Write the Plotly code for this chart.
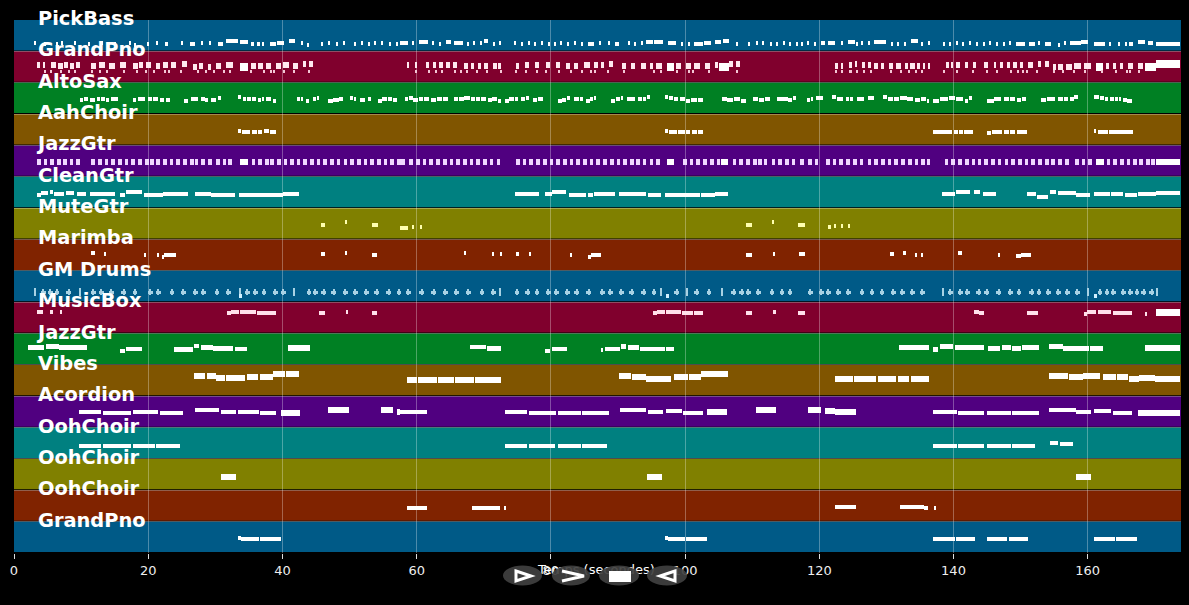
import plotly.graph_objects as go

TRACK_NAMES = ["PickBass", "GrandPno", "AltoSax", "AahChoir", "JazzGtr", "CleanGtr", "MuteGtr", "Marimba",
               "GM Drums", "MusicBox", "JazzGtr", "Vibes", "Acordion", "OohChoir", "OohChoir", "OohChoir", "GrandPno"]
BAND_COLORS = ["#005a87", "#80002d", "#008023", "#805500", "#500080", "#008080", "#808000", "#802300",
               "#005a87", "#80002d", "#008023", "#805500", "#500080", "#008080", "#808000", "#802300", "#005a87"]
X_TICKS = [0, 20, 40, 60, 80, 100, 120, 140, 160]
X_TITLE = "Temps (secondes)"

# (start, end, position inside the band: 0 top .. 1 bottom)
pick_bass = [(3.0,3.3,.68),(4.5,4.8,.72),(6.2,6.6,.7),(7.0,7.3,.66),(9.0,9.3,.68),(11.0,11.3,.7),(13.0,13.3,.66),(15.0,15.2,.72),
 (17.2,17.4,.66),(18.0,18.2,.74),(19.9,20.1,.72),(21.2,21.4,.66),(22.5,23.0,.7),(24.9,25.2,.68),(26.2,27.0,.72),(27.9,28.1,.68),(29.0,29.4,.66),
 (30.4,31.1,.72),(31.6,33.4,.62),(33.7,34.8,.64),(35.3,35.8,.72),(36.2,36.7,.72),(37.0,37.3,.72),(38.1,39.0,.72),(39.2,40.3,.68),(41,41.8,.62),
 (42.8,43.1,.68),(43.8,44.0,.74),(45.8,46.0,.7),(46.8,47.0,.66),(48,48.3,.7),(49,49.3,.66),(50.7,50.9,.7),(51.7,52,.66),(52.7,53,.72),(53.7,54,.68),
 (54.7,54.9,.66),(56,56.2,.7),(57,57.2,.72),(57.5,58.7,.68),(59.4,59.6,.66),(60.4,61.7,.64),(62.4,62.6,.68),(63.4,63.6,.7),(64.4,65.1,.64),
 (65.6,66.9,.68),(67.6,67.8,.72),(68.4,68.6,.68),(69.4,69.7,.68),(70.1,70.6,.62),(71.4,71.6,.72),(72.4,72.6,.66),(74.6,74.8,.68),(75.6,75.8,.72),
 (76.6,76.9,.68),(77.6,77.8,.72),(78.6,78.8,.66),(79.6,79.9,.7),(80.5,80.8,.7),(81.5,81.7,.66),(82.5,82.7,.72),(83.5,83.8,.68),(84.5,84.7,.7),
 (85.5,86.5,.7),(87.2,87.4,.66),(88.5,88.8,.68),(89.5,90.2,.72),(91.5,91.7,.68),(92.5,92.7,.72),(93.5,93.8,.66),(94.2,95.2,.64),(95.4,96.7,.64),
 (97.4,98.7,.68),(99.4,99.7,.72),(100.4,100.7,.72),(101.4,102.6,.7),(102.8,103.9,.68),(104.4,105.4,.64),(105.6,106.6,.62),(107.6,107.8,.72),
 (109.4,109.6,.7),(110.6,110.8,.68),(111.6,111.8,.66),(112.6,112.9,.7),(113.6,113.8,.7),(114.6,114.8,.68),(115.6,115.8,.72),(116.6,116.8,.7),
 (117.3,117.5,.7),(118.3,118.5,.68),(119.3,119.5,.7),(120.3,120.8,.68),(121.3,122.3,.66),(123.3,123.5,.66),(124.3,125.3,.64),(125.6,125.8,.72),
 (126.3,126.5,.66),(127.2,127.5,.68),(128.2,130,.64),(130.7,130.9,.72),(131.7,131.9,.72),(132.7,132.9,.7),(133.7,134.7,.62),(135.2,135.4,.72),
 (136.2,136.4,.68),(138.4,138.8,.7),(139.4,139.7,.7),(140.4,140.7,.68),(141.4,141.6,.7),(142.4,142.6,.68),(143.4,143.6,.7),(144.4,144.7,.72),
 (145.4,145.6,.68),(146.4,146.6,.7),(147.4,147.6,.72),(148.4,148.6,.66),(149.3,150.6,.7),(151.3,152.1,.72),(152.6,152.8,.66),(153.6,154.6,.7),
 (155.6,155.8,.74),(156.5,156.7,.68),(157.3,159,.66),(159,160,.64),(161,162.5,.7),(163.3,163.5,.72),(164.5,164.8,.72),(165.5,165.8,.72),
 (166.2,166.7,.7),(167.5,168.5,.64),(169,169.7,.66),(170.2,173.7,.7)]

grand_upper = [(3.4,3.9,.42),(4.3,4.6,.42),(5.5,6.3,.42),(6.5,7.3,.44),(7.5,8,.42),(8.3,9,.44),(9.3,9.9,.42),(11.5,12.2,.44),(12.7,13.5,.42),
 (14.2,15,.44),(15.8,16.7,.42),(17.7,18.5,.44),(18.7,19.2,.42),(19.7,20.4,.42),(21.2,21.7,.44),(22.2,23,.42),(23.4,24.2,.42),(25.1,25.8,.36),
 (26.7,27.2,.46),(27.6,28.1,.44),(28.9,29.4,.46),(30.1,30.9,.44),(31.6,32.6,.42),(35.3,36.1,.44),(36.4,37.1,.44),(37.6,38.3,.44),(39.1,39.8,.44),
 (40.1,41,.42),(41.5,42.3,.44),(43,43.5,.36),(44,44.5,.36),(58.5,58.9,.42),(59.7,60,.4),(61.4,61.9,.42),(62.4,62.9,.42),(63.4,63.9,.42),(64.4,64.9,.42),
 (65.4,66,.42),(67,67.6,.44),(68.1,68.6,.44),(69.1,69.6,.44),(70.1,70.6,.44),(71.4,71.9,.44),(72.1,72.5,.44),(74.8,75.3,.44),(76.2,76.7,.42),
 (77.6,78.2,.42),(79.3,79.8,.42),(80.8,81.3,.42),(82.3,82.8,.44),(83.5,84,.44),(85,85.8,.42),(86.5,87,.42),(87.5,87.9,.42),(88.7,89.2,.36),
 (90.6,91.2,.44),(92,92.5,.44),(93.5,94.2,.44),(94.7,95.2,.44),(95.7,96.5,.44),(98.7,99.4,.44),(100.2,100.9,.44),(101.4,102.2,.44),(102.9,103.7,.44),
 (104.4,104.9,.42),(106.6,107.1,.36),(107.6,108.2,.36),(122.3,122.8,.44),(123.3,123.5,.44),(124.4,124.8,.42),(125.3,125.6,.38),(126.3,126.8,.42),
 (127.2,127.7,.42),(128.2,128.7,.44),(129.2,129.7,.44),(130.4,131,.44),(131.5,132.2,.44),(132.7,133.2,.44),(133.5,134.2,.44),(134.5,135,.44),
 (135.5,135.8,.44),(136.2,136.4,.44),(138.9,139.3,.42),(139.7,139.9,.42),(140.4,140.9,.42),(141.7,142.2,.42),(142.9,143.4,.42),(144.6,145.1,.42),
 (146.1,146.4,.42),(146.9,147.4,.42),(147.9,148.4,.42),(148.9,149.4,.42),(149.9,150.4,.42),(151.1,151.8,.4),(152.6,153.1,.36),(153.7,154.2,.36),
 (154.8,155.3,.46),(155.6,156.3,.46),(156.8,157.6,.46),(158,159,.44),(159.5,160.5,.44),(162.7,163.2,.44),(163.7,164.2,.44),(164.8,165.3,.44),
 (166,166.7,.44),(167.5,168.2,.44)]
grand_big = [(33.7,34.8,.48),(97.3,98.3,.48),(105.1,106.5,.46),(161.3,162.3,.48),(168.5,170.2,.46),(170.2,173.7,.36)]
grand_lower_starts = [4.5,5.3,6.8,8,9,11.5,12.7,13.7,16.2,18.2,19.5,20.7,22.4,23,24.7,27.2,28.4,29.6,31.1,32.1,35.1,37.1,38.1,38.6,40.1,41.6,43.8,
 59.7,61.7,62.7,63.7,65.6,66.4,67.4,68.9,70.4,72.4,74.6,76.1,77.8,79.1,81.1,82.8,84.5,85.8,86.4,88.3,90.7,95.2,96.2,98.7,100.4,101,103.4,107.6,
 122.3,123.3,124.5,125.5,126.5,127.5,130.5,132,133.2,134.2,135.2,138.4,140.4,142.7,144.9,146.4,148.4,149.4,150.2,150.8,152.3,154.8,156.1,157.8,159.5,162,164,165.7,166.2,167.5]

alto_sax = [(9.8,10.3,.52),(10.5,11,.5),(11.3,12,.52),(12.3,12.8,.5),(13,13.5,.5),(13.7,14.2,.52),(14.5,15,.5),(15.1,15.5,.48),
 (17.7,18.2,.52),(18.5,19,.5),(19.1,19.5,.48),(19.9,20.5,.48),(20.7,21.4,.5),(21.7,22.4,.52),(22.7,23.2,.52),
 (25.4,25.9,.56),(26.4,26.9,.5),(27,27.4,.5),(27.9,28.4,.48),(28.5,28.9,.52),(29.4,30.1,.52),(30.4,30.9,.46),
 (33.4,33.9,.42),(34.1,34.6,.48),(34.7,35.3,.5),(35.4,36.1,.5),(36.4,36.8,.52),(36.9,37.3,.5),(37.6,38.3,.5),(38.6,39.1,.54),
 (42.1,42.6,.48),(42.7,43.1,.5),(43.5,44,.54),(44.5,45,.5),(45.1,45.5,.46),(46.8,47.5,.54),(47.6,48.4,.52),(48.5,49,.5),
 (50,50.5,.46),(50.6,51,.5),(51.5,52.3,.52),(52.7,53.2,.48),(54.2,54.8,.56),(54.9,55.6,.5),(55.7,56.4,.5),(56.5,57,.52),
 (58.2,58.7,.48),(58.8,59.4,.46),(59.5,60.2,.52),(60.3,61,.5),(61.1,61.9,.5),(62.2,62.9,.52),(63,63.8,.48),(63.9,64.7,.5),
 (65.6,66.2,.5),(66.3,67,.5),(67.1,67.9,.46),(68.1,68.7,.5),(68.8,69.5,.5),(69.6,70.4,.5),(70.6,71.2,.52),(71.3,72,.5),(72.1,72.6,.54),
 (73.1,73.7,.56),(73.8,74.5,.5),(74.6,75.1,.5),(75.6,76.2,.5),(76.3,76.8,.46),(77.3,78,.52),(78.1,78.9,.48),
 (81,81.6,.54),(81.7,82.3,.52),(82.4,82.8,.46),(83.5,84.2,.5),(84.3,84.8,.5),(85.3,85.8,.54),(85.9,86.3,.5),(86.4,86.8,.46),
 (89,89.6,.56),(89.7,90.3,.5),(90.4,90.7,.46),(91.3,92.5,.5),(93,93.6,.5),(93.8,94.2,.5),(94.3,94.7,.42),
 (97,97.5,.42),(97.6,98.2,.46),(98.3,98.9,.5),(99.2,100,.5),(100.1,100.7,.54),(100.9,101.8,.52),(101.9,102.6,.52),
 (105.5,106.2,.48),(106.3,107.2,.52),(107.3,108.2,.48),(108.3,109.1,.54),(110.1,110.9,.5),(111,111.8,.52),(111.9,112.6,.5),
 (113.7,114.4,.48),(114.5,115.3,.5),(115.4,116,.52),(116.1,116.6,.46),(118.1,118.6,.52),(118.7,119.1,.5),(119.5,120.6,.46),
 (121.9,122.5,.42),(122.6,123.5,.48),(124,124.5,.5),(124.6,125,.5),(125.6,126.7,.48),(127.2,128.2,.46),
 (129.5,130.1,.42),(130.2,131,.5),(131.1,131.9,.48),(132,133,.46),(133.1,134,.48),(134.2,135,.52),(135.1,135.9,.5),(136,136.4,.54),
 (137,137.9,.54),(138,139.2,.48),(139.4,140.2,.46),(140.3,141.4,.48),(141.7,142.2,.54),(142.3,142.8,.46),
 (145,146,.54),(146.1,147.1,.5),(147.5,148.3,.48),(148.4,149.1,.5),(149.4,150.1,.52),(150.2,150.8,.5),
 (153.1,153.8,.52),(153.9,154.5,.48),(154.6,155.1,.5),(155.6,156.3,.48),(156.4,157,.5),(157.4,157.9,.5),(158,158.5,.44),
 (161,161.7,.42),(161.8,162.4,.46),(162.5,163,.48),(163.3,163.9,.48),(164,164.5,.5),(164.6,165,.5),(165.2,165.8,.52),(165.9,166.6,.54)]

aah_choir = [(33.4,33.8,.5),(34,34.8,.53),(34.9,35.2,.53),(35.4,36.2,.55),(36.3,37,.53),(37.2,38,.52),(38.1,39,.54),(97,97.4,.5),(97.6,98.8,.53),(99,100,.55),(100.1,100.8,.53),(101,101.8,.53),(101.9,102.7,.54),
 (137,137.5,.55),(137.6,139.8,.53),(140,140.7,.53),(140.8,141.4,.55),(141.6,142.9,.53),(145,145.6,.56),(145.7,147.2,.53),(147.5,148.3,.53),(148.4,149.2,.55),(149.4,151,.53),(161,161.3,.5),(161.5,163,.53),(163.2,166.7,.54)]

jazz_purple_starts = [3.4,4.4,5.4,6.4,7.3,8.3,9.3,11.5,12.5,13.5,14.5,15.5,16.5,17.5,18.5,19.5,20.3,21.2,22.2,23.2,24.2,25.2,26.2,26.9,27.9,28.9,30.1,31.1,31.9,
 35.4,36.4,37.4,38.2,39.2,40.2,41.1,42.1,43.1,44.1,45.1,46.1,47.1,48.1,49.1,50.1,51.1,52.1,53.1,54.1,55.1,56.1,57.1,
 57.7,58.9,59.9,60.9,61.9,62.9,63.9,64.9,65.9,66.9,67.9,68.9,69.9,70.9,71.9,74.8,75.8,76.8,77.8,78.8,79.8,80.8,81.8,82.8,83.8,84.8,85.8,86.8,87.8,88.8,89.8,90.8,91.8,92.7,93.7,94.7,95.7,
 99.7,100.7,101.7,102.7,103.7,104.7,107.1,108.1,109.1,110.1,110.9,111.7,112.9,113.9,114.9,115.9,
 117.1,118.3,119.3,121,122,123,124,125,126,127.2,128.2,129.2,130.2,131.2,132.2,133.2,134.2,135.2,136,
 138.7,139.7,140.7,141.7,142.7,143.6,144.6,145.6,146.6,147.6,148.6,149.6,150.6,151.6,152.6,153.7,154.6,155.6,156.6,158.1,159.1,160.1,162.8,163.8,164.8,165.8,166.8,167.7,168.7,169.5]
jazz_purple_big = [(33.7,34.9,.48),(97.3,98.4,.48),(105.4,106.4,.48),(161.2,162.4,.48),(170.1,173.7,.48)]

clean_gtr = [(3.4,4,.54),(4,5,.48),(5.3,5.8,.46),(6,7.5,.52),(7.8,9,.5),(9.4,10.7,.52),(11.3,15,.52),(15.8,16.5,.54),(16.7,19,.44),(19.4,22.2,.54),(22.2,25.9,.52),
 (26.9,29.4,.52),(29.4,30.9,.54),(30.9,32.9,.54),(33.6,37.6,.54),(37.6,40.1,.54),(40.1,42.5,.52),(74.6,78.3,.52),(79.2,80.1,.52),(80.2,82.3,.44),(82.7,85.3,.54),
 (85.5,86.3,.54),(86.5,89.5,.52),(90.2,94.2,.52),(94.5,96.4,.54),(97,99.7,.54),(99.7,102.2,.56),(102.4,104.4,.54),(104.4,106.4,.52),
 (138.3,140.2,.52),(140.4,142.4,.46),(143,143.9,.46),(144.4,146.4,.52),(151,152.3,.52),(152.4,154.1,.6),(154.4,155.3,.46),(155.6,158.3,.5),(158.3,160.3,.54),
 (161,163.3,.52),(163.5,165.3,.52),(165.5,167.3,.56),(167.5,170.2,.52),(170.2,173.7,.48)]

mute_gtr = [(45.8,46.3,.5),(49.3,49.6,.42),(53.3,54.2,.5),(57.5,58.7,.6),(59.4,59.6,.56),(60.5,60.7,.56),(109.1,109.9,.5),(113,113.3,.42),(116.8,117.8,.52),
 (121.3,121.8,.56),(122.3,122.5,.54),(123.3,123.5,.54),(124.4,124.6,.54)]
marimba = [(11.5,12,.44),(13.5,13.7,.46),(19.4,19.6,.48),(21.3,21.6,.48),(22,22.4,.56),(22.4,24.2,.5),(45.8,46.3,.46),(49.3,49.6,.44),(53.3,54.1,.48),
 (67.1,67.4,.44),(71.3,71.6,.46),(72.4,72.7,.46),(74.8,75.2,.46),(76.8,77.1,.46),(82.8,83.1,.48),(85.5,86,.56),(86,87.5,.5),(109.1,109.9,.48),(113.1,113.4,.46),
 (117,117.8,.46),(130.5,131.2,.46),(132.5,132.9,.44),(134.2,134.5,.48),(135.2,135.5,.48),(140.7,141.2,.44),(146.7,147,.48),(149.3,150,.54),(150,151.6,.5)]

drum_hits = [4.05,5.05,6.05,7.8,11.5,12.7,14.2,16,17.7,20,21.2,23.2,24.9,26.7,27.9,29.9,31.6,34.4,35.6,36.9,38.6,39.8,43.6,44.6,45.8,47.3,49,50.5,52.2,53.7,55.5,57,
 58.4,60.4,62.2,63.9,65.6,67.4,69.4,71.1,74.6,76.2,77.6,79.3,80.5,82.1,83.5,85.3,87.3,88.5,90.2,91.7,93.5,95,98.4,101.4,103.2,106.9,108.1,109.1,110.6,112.6,114.1,115.3,
 118.3,120,121,122.5,124,126,127.5,129,130.7,132,133.5,135,139.2,140.7,141.7,143.4,144.6,146.4,148.1,149.4,151.3,152.4,153.8,155.3,156.6,158.1,161.5,162.5,163.5,165,166,167,168,169.2]
drum_sticks = [3.06,9.8,33.6,41.6,72.3,96.3,100.2,105.4,138.3,160,170.3]
drum_low = [33.6,97.2,161]

music_box = [(3.4,4.3,.32),(5.3,5.8,.32),(7,7.2,.3),(31.8,32.4,.36),(32.4,33.6,.3),(33.7,36,.3),(36.2,37.8,.33),(37.9,39.1,.34),(45.5,46.3,.34),(49.4,49.7,.3),(53.3,54.1,.33),
 (95.2,95.8,.36),(95.8,97,.3),(97.1,99.4,.31),(99.6,101.2,.33),(101.3,102.6,.35),(109.1,109.9,.33),(113.1,113.5,.3),(116.9,117.8,.34),(143.1,143.8,.32),(143.8,144.6,.36),
 (151,151.8,.33),(151.8,152.6,.35),(159.4,159.9,.38),(159.9,161.3,.3),(161.5,163.5,.32),(163.7,165.2,.34),(165.3,166.6,.35),(168.6,168.8,.38)]
music_box_long = [(170.1,173.7,.32)]

jazz_green = [(2.06,4.5,.42),(4.7,6.7,.38),(6.7,10.9,.42),(15.8,16.5,.52),(16.7,19,.46),(23.9,26.7,.48),(26.8,27.6,.36),(27.9,29.6,.42),(29.6,32.6,.44),(32.9,34.7,.46),(68,70.4,.4),(70.5,72.6,.44),
 (79.2,79.8,.52),(80.2,82.4,.46),(87.4,87.8,.5),(88.1,90.3,.46),(90.4,91.2,.38),(91.5,93.2,.42),(93.3,97,.46),(97.1,98.3,.46),(131.9,136.4,.42),(137,137.7,.48),(138,139.9,.38),(140.2,144.6,.42),
 (145.1,147,.44),(147.2,148.5,.42),(148.7,150,.44),(150.2,152.8,.42),(154.3,156.3,.38),(156.3,158.3,.44),(158.3,160.2,.44),(160.4,162.3,.44)]
jazz_green_big = [(40.8,44.1,.42),(168.6,173.7,.42)]

vibes = [(26.8,28.5,.36),(28.7,30.1,.36),(30.1,31.5,.42),(31.6,34.4,.42),(34.7,36.4,.38),(36.6,38.6,.38),(38.6,40.4,.3),(40.6,42.5,.3),(58.5,60,.48),(60.2,63,.48),(63.2,65.5,.48),(65.7,68.5,.48),(68.7,72.6,.48),
 (90.2,91.9,.36),(92.1,94.2,.38),(94.2,97.9,.44),(98.4,100.4,.38),(100.6,102.4,.38),(102.4,106.4,.3),(122.3,125,.46),(125.2,128.5,.44),(128.7,131.5,.46),(131.7,133.4,.44),(133.6,136.4,.46),
 (154.2,157,.36),(157.2,159.3,.38),(159.3,161.8,.34),(162.3,164.2,.38),(164.4,166,.4),(166.2,167.7,.44),(167.7,170,.42),(170,173.7,.44)]

acordion_thin = [(9.7,13,.5),(13.2,17.5,.52),(17.7,21.5,.5),(21.7,25.2,.52),(26.9,30.6,.44),(30.9,33.1,.5),(33.4,36.5,.5),(36.7,39.1,.52),(57.45,61.5,.5),(73.1,76.5,.5),(76.7,80.8,.52),(81.1,84.5,.52),(84.7,88.7,.52),
 (90.3,94.2,.44),(94.5,96.7,.5),(97.2,99.5,.48),(99.7,102.7,.52),(137,140.5,.5),(140.7,144.6,.52),(145,148.5,.52),(148.7,152.7,.52),(154.3,158.3,.44),(158.3,160.5,.5),(161,163.5,.48),(163.7,166.6,.52)]
acordion_big = [(39.8,42.6,.54),(46.8,49.9,.44),(54.7,56.5,.44),(57,57.5,.5),(103.2,106.3,.5),(110.5,113.5,.44),(118.3,120.3,.44),(120.8,122.3,.48),(122.3,125.4,.5),(167.5,173.7,.52)]

ooh_choir_a = [(9.7,13,.58),(13.2,17.5,.58),(17.7,21,.58),(21.2,24.8,.58),(73.1,76.5,.58),(76.7,80.6,.58),(81.1,84.5,.58),(84.7,88.3,.58),(137,140.5,.58),(140.7,144.6,.58),(145,148.5,.58),(148.7,152.2,.58),(154.4,155.6,.48),(155.8,157.8,.52)]
ooh_choir_b = [(30.9,33.1,.56),(94.3,96.6,.56),(158.3,160.5,.56)]
ooh_choir_c = [(58.5,61.6,.55),(68.2,71.5,.55),(71.5,72.4,.58),(73.1,73.3,.58),(122.3,125.4,.54),(132.1,135.6,.54),(135.6,136.2,.58),(137.1,137.3,.58)]
grand_bottom = [(33.4,33.8,.52),(33.8,36.5,.55),(36.7,39.8,.55),(97,97.4,.52),(97.4,100,.55),(100.2,103.2,.55),(137,140.2,.54),(140.4,143.2,.55),(145,148,.55),(148.2,151.1,.55),(161,164,.54),(164.2,167.3,.55)]

QUARTER_LEN = 0.55
GRACE_LEN = 0.3
HIT_LEN = 0.7
STICK_LEN = 0.15

# (track index, notes, bar height in px, colour)
DRUM_COL = "#a8d2e4"
groups = [
    (0, pick_bass, 4, "white"),
    (1, grand_upper, 6, "#ffe8f0"), (1, grand_big, 8, "white"),
    (1, [(s, s + GRACE_LEN, .6) for s in grand_lower_starts], 3, "#f4c8d6"),
    (2, alto_sax, 4, "white"), (3, aah_choir, 4, "white"),
    (4, [(s, s + QUARTER_LEN, .48) for s in jazz_purple_starts], 6, "#f0d8ff"), (4, jazz_purple_big, 6, "white"),
    (5, clean_gtr, 4, "white"), (6, mute_gtr, 4, "#ffffb0"), (7, marimba, 4, "#ffffff"),
    (8, [(s, s + HIT_LEN, .68) for s in drum_hits], 3, DRUM_COL),
    (8, [(s + .25, s + .42, .68) for s in drum_hits], 6, DRUM_COL),
    (8, [(s, s + STICK_LEN, .68) for s in drum_sticks], 8, DRUM_COL),
    (8, [(s, s + .4, .8) for s in drum_low], 4, "#d0f0ff"),
    (9, music_box, 4, "#ffe0ea"), (9, music_box_long, 7, "white"),
    (10, jazz_green, 4.5, "white"), (10, jazz_green_big, 6, "white"),
    (11, vibes, 6, "white"),
    (12, acordion_thin, 4, "white"), (12, acordion_big, 6, "white"),
    (13, ooh_choir_a, 4, "white"), (14, ooh_choir_b, 6, "white"), (15, ooh_choir_c, 4, "white"),
    (16, grand_bottom, 4, "white"),
]
TRACK_NUDGE = {0: .06, 1: .03, 2: .03, 3: .03, 4: .05, 5: .03, 6: .03, 10: .03}

WIDTH, HEIGHT = 1189, 605
ML, MR, MT, MB = 14, 8, 20, 52
PLOT_W, PLOT_H = WIDTH - ML - MR, HEIGHT - MT - MB
FULL_H = HEIGHT - MT
N = len(TRACK_NAMES)
PX_PER_TRACK = PLOT_H / N

fig = go.Figure()
for track, notes, h, col in groups:
    dy = TRACK_NUDGE.get(track, 0)
    fig.add_trace(go.Bar(
        orientation="h",
        base=[n[0] for n in notes],
        x=[n[1] - n[0] for n in notes],
        y=[track + n[2] + dy for n in notes],
        width=[h / PX_PER_TRACK] * len(notes),
        marker=dict(color=col, line=dict(width=0)),
        showlegend=False, hoverinfo="skip",
    ))

# Axis title lives in a small helper subplot under the main one, so the transport buttons can overlap it
fig.add_trace(go.Scatter(x=[86.8], y=[18], mode="text", text=[X_TITLE], xaxis="x2", yaxis="y2",
                         textfont=dict(family="DejaVu Sans", size=13, color="white"),
                         textposition="middle center", cliponaxis=False, showlegend=False, hoverinfo="skip"))

shapes = []
for i, c in enumerate(BAND_COLORS):
    shapes.append(dict(type="rect", xref="x", yref="y", x0=0, x1=173.9, y0=i, y1=i + .97,
                       fillcolor=c, line=dict(width=0), layer="below"))


def px(x):
    return (x - ML) / PLOT_W


def py(y):
    return (HEIGHT - y) / FULL_H


def path(points, close=False):
    s = " ".join(("M" if k == 0 else "L") + f"{px(a):.5f},{py(b):.5f}" for k, (a, b) in enumerate(points))
    return s + (" Z" if close else "")


for x0, x1 in [(503, 542), (552, 590), (599, 639), (647, 687)]:
    shapes.append(dict(type="circle", xref="paper", yref="paper", x0=px(x0), x1=px(x1), y0=py(585.5), y1=py(565.5),
                       fillcolor="rgba(64,64,64,0.92)", line=dict(width=0), layer="above"))
white = dict(color="white", width=3)
shapes.append(dict(type="path", xref="paper", yref="paper", path=path([(516, 571), (531, 576), (516, 581)], True), line=white, layer="above"))
shapes.append(dict(type="path", xref="paper", yref="paper", path=path([(562, 571), (584, 576), (562, 581)]), line=white, layer="above"))
shapes.append(dict(type="rect", xref="paper", yref="paper", x0=px(609), x1=px(631), y0=py(582), y1=py(571), fillcolor="white", line=dict(width=0), layer="above"))
shapes.append(dict(type="path", xref="paper", yref="paper", path=path([(675, 571), (660, 576), (675, 581)], True), line=white, layer="above"))

annotations = [dict(x=3.35, y=i, xref="x", yref="y", yshift=1.5, xshift=-2 if name.startswith("J") else 0,
                    text=name, showarrow=False, xanchor="left", yanchor="middle",
                    font=dict(family="DejaVu Sans", size=19.4, color="white", weight="bold"))
               for i, name in enumerate(TRACK_NAMES)]

fig.update_layout(
    width=WIDTH, height=HEIGHT, autosize=False,
    margin=dict(l=ML, r=MR, t=MT, b=0, pad=0),
    paper_bgcolor="black", plot_bgcolor="black",
    barmode="overlay", bargap=0,
    showlegend=False,
    shapes=shapes, annotations=annotations,
    font=dict(family="DejaVu Sans", color="white", size=13),
    xaxis=dict(range=[0, 173.9], tickmode="array", tickvals=X_TICKS, ticks="outside", ticklen=5, tickwidth=1, tickcolor="#dddddd",
               showgrid=True, gridcolor="rgba(255,255,255,0.3)", gridwidth=1, zeroline=False, showline=False,
               anchor="y", tickfont=dict(family="DejaVu Sans", size=13, color="#eeeeee")),
    yaxis=dict(domain=[MB / FULL_H, 1], range=[N, 0], tickmode="array", tickvals=list(range(N + 1)), showticklabels=False, ticks="",
               showgrid=True, gridcolor="rgba(255,255,255,0.3)", gridwidth=1, zeroline=False, showline=False),
    xaxis2=dict(domain=[0, 1], range=[0, 173.9], anchor="y2", visible=False),
    yaxis2=dict(domain=[0, MB / FULL_H], range=[52, 0], anchor="x2", visible=False),
)

fig.write_html("out.html", config={"displayModeBar": False},
               post_script="document.body.style.margin='0';document.body.style.background='black';")
